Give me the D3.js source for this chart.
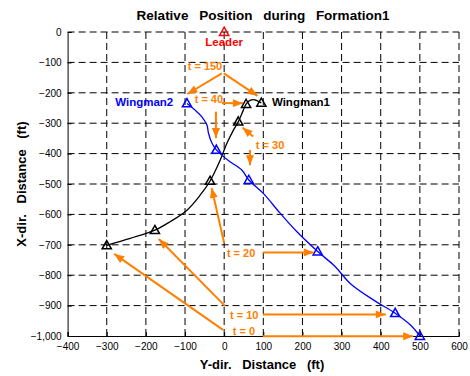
<!DOCTYPE html>
<html><head><meta charset="utf-8">
<script src="https://cdn.jsdelivr.net/npm/d3@7"></script>
<style>body{margin:0;background:#fff}svg{display:block}text{font-family:"Liberation Sans",Arial,sans-serif}</style>
</head><body>
<script>
// ---- data ----
const xTicks = [-400,-300,-200,-100,0,100,200,300,400,500,600];
const yTicks = [0,-100,-200,-300,-400,-500,-600,-700,-800,-900,-1000];
// Wingman1 trajectory (Y-dir, X-dir) from t=0 to t=150
const wing1Y = [-300,-240,-177,-138,-95,-61,-36,-10,7,24,36,49,56,66,78,95];
const wing1X = [-702,-679,-652,-624,-586,-536,-490,-421,-366,-322,-295,-257,-237,-225,-223,-233];
// Wingman2 trajectory
const wing2Y = [500,476,437,382,322,284,239,186,143,100,63,45,15,-6,-20,-31,-40,-44,-57,-74,-95];
const wing2X = [-1000,-964,-925,-882,-827,-772,-722,-657,-596,-531,-487,-454,-427,-405,-388,-366,-333,-306,-279,-257,-235];
// markers at t = 0, 10, 20, 30, 40, 150
const markTimes = [0,10,20,30,40,150];
const wing1MarkY = [-300,-177,-36,36,56,95];
const wing1MarkX = [-702,-652,-490,-295,-237,-233];
const wing2MarkY = [500,437,239,63,-20,-95];
const wing2MarkX = [-1000,-925,-722,-487,-388,-235];
const leaderY = [0], leaderX = [0];
// annotation labels and arrows (data units)
const annLabels = ["t = 150","t = 40","t = 30","t = 20","t = 10","t = 0"];
const annLabelY = [-49,-39,81,7,15,22];
const annLabelX = [-125,-234,-385,-740,-944,-998];
const annAnchor = ["middle","middle","start","start","start","start"];
const arrowFromY = [-6,-1,-6,-21,74,66,0,99,99,2,99,-3];
const arrowFromX = [-136,-136,-234,-262,-344,-388,-694,-725,-929,-901,-1001,-980];
const arrowToY   = [-94,85,48,-21,47,66,-32,229,413,-167,483,-281];
const arrowToX   = [-204,-210,-234,-349,-314,-438,-513,-725,-929,-681,-1001,-730];

const W=470,H=376;
const svg=d3.select("body").append("svg").attr("width",W).attr("height",H);
const x=d3.scaleLinear().domain([-400,600]).range([67.6,459]);
const y=d3.scaleLinear().domain([-1000,0]).range([336,32]);
const orange="#ff8000";

const defs=svg.append("defs");
defs.append("marker").attr("id","ah").attr("markerUnits","userSpaceOnUse")
  .attr("viewBox","0 0 10 8").attr("refX",10).attr("refY",4)
  .attr("markerWidth",11).attr("markerHeight",8).attr("orient","auto")
  .append("path").attr("d","M0,0L10,4L0,8Z").attr("fill",orange);

// grid
const g=svg.append("g");
g.selectAll(".gx").data(xTicks.slice(1)).join("line")
  .attr("x1",d=>x(d)).attr("x2",d=>x(d)).attr("y1",y(-1000)).attr("y2",y(0))
  .attr("stroke","#000").attr("stroke-width",1).attr("stroke-dasharray","7,4");
g.selectAll(".gy").data(yTicks.slice(0,-1)).join("line")
  .attr("y1",d=>y(d)).attr("y2",d=>y(d)).attr("x1",x(-400)).attr("x2",x(600))
  .attr("stroke","#000").attr("stroke-width",1).attr("stroke-dasharray","7,4");

// axes
const xAxis=d3.axisBottom(x).tickValues(xTicks).tickSize(-4).tickPadding(7);
const yAxis=d3.axisLeft(y).tickValues(yTicks).tickSize(-4).tickPadding(6);
const gx=svg.append("g").attr("transform",`translate(0,${y(-1000)})`).call(xAxis);
const gy=svg.append("g").attr("transform",`translate(${x(-400)},0)`).call(yAxis);
[gx,gy].forEach(a=>{a.select(".domain").attr("stroke","#000");
  a.selectAll("text").attr("font-size",10).attr("fill","#000").style("font-family","Liberation Sans, Arial");
  a.selectAll(".tick line").attr("stroke","#000");});

// lines
const line=d3.line().curve(d3.curveCatmullRom.alpha(0.5));
const p1=wing1Y.map((v,i)=>[x(v),y(wing1X[i])]);
const p2=wing2Y.map((v,i)=>[x(v),y(wing2X[i])]);
svg.append("path").attr("d",line(p1)).attr("fill","none").attr("stroke","#000").attr("stroke-width",1.3);
svg.append("path").attr("d",line(p2)).attr("fill","none").attr("stroke","#0000ff").attr("stroke-width",1.3);

const tri="M0,-4.8L4.6,3.4L-4.6,3.4Z";
function markers(ys,xs,col){
  svg.append("g").selectAll("path").data(ys).join("path")
    .attr("d",tri).attr("transform",(d,i)=>`translate(${x(d)},${y(xs[i])})`)
    .attr("fill","none").attr("stroke",col).attr("stroke-width",1.5);
}
markers(wing1MarkY,wing1MarkX,"#000");
markers(wing2MarkY,wing2MarkX,"#0000ff");
markers(leaderY,leaderX,"#ff0000");

// arrows
svg.append("g").selectAll("line").data(arrowFromY).join("line")
  .attr("x1",d=>x(d)).attr("y1",(d,i)=>y(arrowFromX[i]))
  .attr("x2",(d,i)=>x(arrowToY[i])).attr("y2",(d,i)=>y(arrowToX[i]))
  .attr("stroke",orange).attr("stroke-width",2).attr("marker-end","url(#ah)");

svg.append("g").selectAll("text").data(annLabels).join("text")
  .attr("x",(d,i)=>x(annLabelY[i])).attr("y",(d,i)=>y(annLabelX[i]))
  .attr("text-anchor",(d,i)=>annAnchor[i]).attr("font-size",11).attr("font-weight","bold")
  .attr("fill",orange).text(d=>d);

// names
svg.append("text").attr("x",x(0)).attr("y",y(-46)).attr("text-anchor","middle")
  .attr("font-size",11.5).attr("font-weight","bold").attr("fill","#ff0000").text("Leader");
svg.append("text").attr("x",x(-130)).attr("y",y(-243)).attr("text-anchor","end")
  .attr("font-size",11.5).attr("font-weight","bold").attr("fill","#0000ff").text("Wingman2");
svg.append("text").attr("x",x(122)).attr("y",y(-245)).attr("text-anchor","start")
  .attr("font-size",11.5).attr("font-weight","bold").attr("fill","#000").text("Wingman1");

// title & axis labels
svg.append("text").attr("x",263).attr("y",20).attr("text-anchor","middle")
  .attr("font-size",13.5).attr("font-weight","bold").style("word-spacing","7px")
  .text("Relative Position during Formation1");
svg.append("text").attr("x",262).attr("y",369).attr("text-anchor","middle")
  .attr("font-size",13).attr("font-weight","bold").style("word-spacing","7px")
  .text("Y-dir. Distance (ft)");
svg.append("text").attr("transform",`translate(26,${(y(0)+y(-1000))/2}) rotate(-90)`).attr("text-anchor","middle")
  .attr("font-size",13).attr("font-weight","bold").style("word-spacing","7px")
  .text("X-dir. Distance (ft)");
</script>
</body></html>
